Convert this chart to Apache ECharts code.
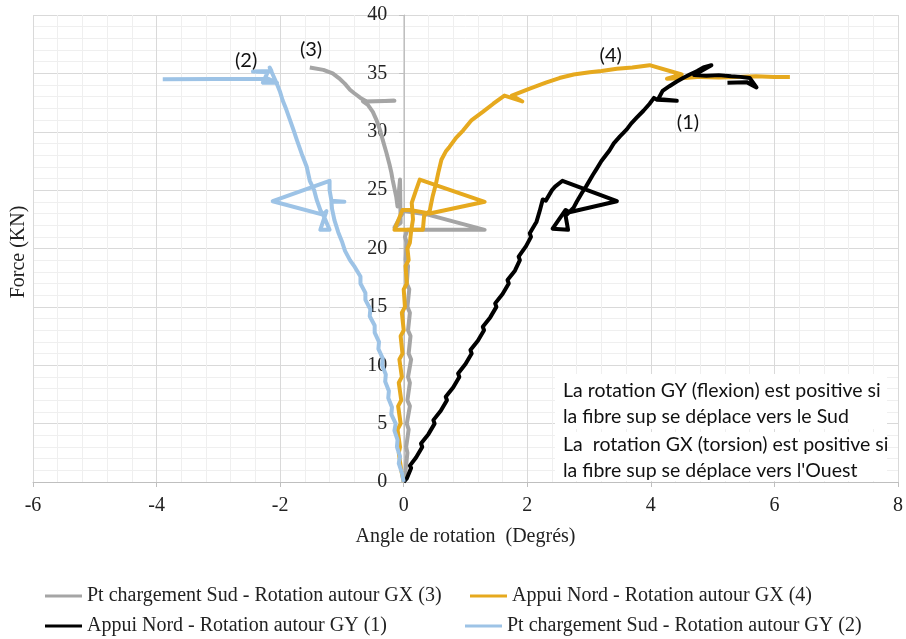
<!DOCTYPE html>
<html><head><meta charset="utf-8">
<script src="https://cdn.jsdelivr.net/npm/echarts@6/dist/echarts.min.js"></script>
<style>html,body{margin:0;padding:0;background:#fff}#c{width:906px;height:639px}</style>
</head><body><div id="c"></div>
<script>
// ---- data (x: angle in degrees, y: force in kN) ----
const seriesNames = [
  'Pt chargement Sud - Rotation autour GX (3)',
  'Appui Nord - Rotation autour GX (4)',
  'Appui Nord - Rotation autour GY (1)',
  'Pt chargement Sud - Rotation autour GY (2)'
];
const grayGX3 = [[0,0],[0.03,1],[0.06,2.5],[0.04,3],[0.08,4.5],[0.05,5],[0.1,6.5],[0.06,7],[0.1,8.5],[0.07,9],[0.12,10.5],[0.08,11],[0.11,12.5],[0.07,13],[0.1,14.5],[0.06,15],[0.09,16.5],[0.05,17],[0.07,18.5],[0.03,19],[0.05,20.5],[0.02,21],[0.06,21.6],[1.31,21.6],[0.39,22.9],[0.0,23.2],[-0.15,21.8],[-0.05,22.2],[-0.06,25.9],[-0.1,23.6],[-0.12,24.4],[-0.18,25.9],[-0.2,26.5],[-0.23,27.2],[-0.28,28.2],[-0.34,29.3],[-0.38,30.1],[-0.44,31.0],[-0.5,31.7],[-0.58,32.3],[-0.66,32.6],[-0.15,32.65],[-0.6,32.6],[-0.7,32.9],[-0.8,33.3],[-0.87,33.6],[-0.95,34.1],[-1.05,34.6],[-1.15,35.0],[-1.3,35.3],[-1.52,35.5]];
const orangeGX4 = [[0,0],[-0.04,1],[-0.08,2.5],[-0.06,3],[-0.1,4.5],[-0.05,5],[-0.09,6.5],[-0.04,7],[-0.08,8.5],[-0.03,9],[-0.07,10.5],[-0.02,11],[-0.05,12.5],[0.0,13],[-0.03,14.5],[0.02,15],[0.0,16.5],[0.05,17],[0.03,18.5],[0.08,19],[0.06,20],[0.1,20.5],[0.12,21.5],[0.15,22.5],[0.13,23.9],[0.2,25.0],[0.26,25.9],[1.31,24.0],[0.42,23.0],[0.1,23.3],[-0.02,23.3],[-0.15,21.6],[0.31,21.6],[0.33,22.8],[0.42,23.2],[0.47,24.5],[0.52,25.5],[0.56,26.5],[0.61,27.6],[0.68,28.3],[0.74,28.7],[0.85,29.5],[0.96,30.1],[1.1,31.0],[1.28,31.7],[1.45,32.4],[1.63,33.1],[1.92,32.6],[1.75,33.1],[2.04,33.7],[2.3,34.2],[2.52,34.6],[2.75,34.9],[3.01,35.1],[3.2,35.2],[3.45,35.4],[3.7,35.5],[3.98,35.7],[4.5,34.9],[4.26,34.55],[4.55,34.6],[4.8,34.7],[5.1,34.65],[5.4,34.7],[5.7,34.75],[6.0,34.7],[6.25,34.7]];
const blackGY1 = [[0,0],[0.05,0.3],[0.12,1.2],[0.1,1.4],[0.2,2.1],[0.3,3.0],[0.28,3.3],[0.4,4.1],[0.5,5.0],[0.48,5.3],[0.6,6.1],[0.7,7.0],[0.68,7.3],[0.8,8.1],[0.9,9.0],[0.88,9.3],[1.0,10.1],[1.1,11.0],[1.08,11.3],[1.2,12.1],[1.3,13.0],[1.28,13.3],[1.4,14.1],[1.5,15.0],[1.48,15.3],[1.6,16.1],[1.7,17.0],[1.68,17.3],[1.8,18.1],[1.88,19.0],[1.86,19.3],[1.98,20.2],[2.06,21.0],[2.04,21.3],[2.15,22.3],[2.2,23.2],[2.25,24.2],[2.3,24.1],[2.4,25.0],[2.45,25.3],[2.57,25.8],[3.45,24.05],[2.68,23.1],[2.62,23.3],[2.41,21.7],[2.66,21.6],[2.62,22.8],[2.75,23.5],[2.8,24.0],[2.9,24.9],[2.95,25.3],[3.06,26.3],[3.12,26.8],[3.2,27.5],[3.33,28.4],[3.4,29.0],[3.5,29.6],[3.61,30.2],[3.68,30.7],[3.77,31.2],[3.88,31.8],[3.98,32.4],[4.05,32.9],[4.1,32.75],[4.42,32.65],[4.12,32.8],[4.19,33.5],[4.3,33.9],[4.42,34.3],[4.52,34.6],[4.63,34.9],[4.75,35.2],[4.85,35.5],[4.98,35.7],[4.7,34.85],[4.9,34.8],[5.1,34.85],[5.3,34.75],[5.45,34.7],[5.6,34.6],[5.71,33.8],[5.55,34.25],[5.24,34.2]];
const blueGY2 = [[0,0],[-0.03,0.8],[-0.08,1.6],[-0.06,2.2],[-0.11,3.0],[-0.1,3.6],[-0.15,4.4],[-0.13,5.0],[-0.2,5.8],[-0.19,6.4],[-0.25,7.2],[-0.24,7.8],[-0.3,8.6],[-0.29,9.2],[-0.35,10.0],[-0.34,10.6],[-0.41,11.4],[-0.4,12.0],[-0.47,12.8],[-0.47,13.4],[-0.55,14.2],[-0.54,14.8],[-0.62,15.6],[-0.62,16.2],[-0.7,17.0],[-0.7,17.6],[-0.79,18.4],[-0.87,19.0],[-0.95,19.8],[-1.0,20.6],[-1.06,21.4],[-1.12,22.4],[-1.16,23.4],[-1.17,24.0],[-0.96,24.0],[-1.17,24.1],[-1.2,25.0],[-1.2,25.8],[-2.12,24.05],[-1.31,22.9],[-1.25,23.2],[-1.35,21.6],[-1.2,21.6],[-1.28,22.6],[-1.35,23.3],[-1.41,24.2],[-1.45,25.0],[-1.52,25.8],[-1.57,27.0],[-1.65,28.1],[-1.73,29.3],[-1.78,30.1],[-1.84,31.0],[-1.9,31.9],[-1.96,32.7],[-2.0,33.4],[-2.06,34.2],[-2.12,34.9],[-2.17,35.5],[-2.14,35.2],[-2.44,35.15],[-2.2,35.1],[-2.28,34.2],[-2.05,34.2],[-2.2,34.55],[-3.9,34.5]];
const seriesColors = ['#A5A5A5', '#E6A91E', '#000000', '#9DC3E6'];
const curveLabels = ['(2)', '(3)', '(4)', '(1)'];
const curveLabelPos = [[-2.55, 36.1], [-1.5, 37.0], [3.35, 36.5], [4.6, 30.8]];
const noteLines = [
  'La rotation GY (flexion) est positive si',
  'la fibre sup se déplace vers le Sud',
  'La  rotation GX (torsion) est positive si',
  "la fibre sup se déplace vers l'Ouest"
];
const xMin = -6, xMax = 8, xStep = 2;
const yMin = 0, yMax = 40, yStep = 5;

// ---- chart ----
const W = 906, gridLeft = 33, gridRight = 7;
const chart = echarts.init(document.getElementById('c'), null, {renderer: 'canvas'});
const serif = 'Liberation Serif, Times New Roman, serif';
const sans = 'Lato, Noto Sans, sans-serif';
const dataSets = [grayGX3, orangeGX4, blackGY1, blueGY2];
// y axis crosses the x axis at x = 0
const yAxisOffset = -((0 - xMin) / (xMax - xMin)) * (W - gridLeft - gridRight);

const lineSeries = dataSets.map((d, i) => ({
  name: seriesNames[i], type: 'line', data: d, showSymbol: false, symbol: 'none',
  lineStyle: {color: seriesColors[i], width: 4, join: 'round'},
  itemStyle: {color: seriesColors[i]}, z: 2 + i
}));

const labelSeries = {
  type: 'scatter', symbolSize: 0, silent: true, z: 10,
  itemStyle: {color: '#000', opacity: 1},
  data: curveLabelPos.map((p, i) => ({value: p, label: {show: true, formatter: curveLabels[i], color: '#111'}})),
  label: {position: 'inside', color: '#111', fontFamily: sans, fontSize: 20, textBorderWidth: 0, opacity: 1}
};

const legendPos = [[40, 581], [465, 581], [40, 611], [460, 611]];
const legends = seriesNames.map((n, i) => ({
  data: [{name: n, icon: 'rect'}], left: legendPos[i][0], top: legendPos[i][1],
  itemWidth: 37, itemHeight: 3, selectedMode: false,
  textStyle: {fontFamily: serif, fontSize: 20, color: '#222'}
}));

const notes = [];
notes.push({type: 'rect', shape: {x: 555, y: 374, width: 332, height: 55}, style: {fill: '#fff'}, z: 20});
notes.push({type: 'rect', shape: {x: 555, y: 432, width: 332, height: 49}, style: {fill: '#fff'}, z: 20});
const noteY = [391, 417, 445, 471];
noteLines.forEach((t, i) => notes.push({
  type: 'text', left: 563, top: noteY[i] - 10, z: 21,
  style: {text: t, fill: '#111', font: '19.5px ' + sans}
}));
notes.push({
  type: 'text', rotation: Math.PI / 2, z: 21, x: 19, y: 252,
  style: {text: 'Force (KN)', fill: '#222', font: '20px ' + serif, align: 'center', verticalAlign: 'middle'}
});

chart.setOption({
  animation: false,
  backgroundColor: '#fff',
  grid: {left: gridLeft, right: gridRight, top: 15, bottom: 157, containLabel: false},
  legend: legends,
  xAxis: {
    type: 'value', min: xMin, max: xMax, interval: xStep,
    name: 'Angle de rotation  (Degrés)', nameLocation: 'middle', nameGap: 45,
    nameTextStyle: {fontFamily: serif, fontSize: 20, color: '#222'},
    axisLine: {onZero: false, lineStyle: {color: '#BFBFBF', width: 1}},
    axisTick: {show: true, length: 5, lineStyle: {color: '#BFBFBF'}},
    axisLabel: {fontFamily: serif, fontSize: 20, color: '#222', margin: 14},
    splitLine: {show: true, lineStyle: {color: '#D9D9D9', width: 1}},
    minorTick: {show: false, splitNumber: 5},
    minorSplitLine: {show: true, lineStyle: {color: '#EFEFEF', width: 1}}
  },
  yAxis: {
    type: 'value', min: yMin, max: yMax, interval: yStep,
    position: 'left', offset: yAxisOffset,
    axisLine: {show: true, onZero: false, lineStyle: {color: '#BFBFBF', width: 1}},
    axisTick: {show: true, length: 5, lineStyle: {color: '#BFBFBF'}},
    axisLabel: {fontFamily: serif, fontSize: 20, color: '#222', margin: 17},
    splitLine: {show: true, lineStyle: {color: '#D9D9D9', width: 1}},
    minorTick: {show: false, splitNumber: 5},
    minorSplitLine: {show: true, lineStyle: {color: '#EFEFEF', width: 1}}
  },
  series: lineSeries.concat([labelSeries]),
  graphic: notes
});
</script>
</body></html>
